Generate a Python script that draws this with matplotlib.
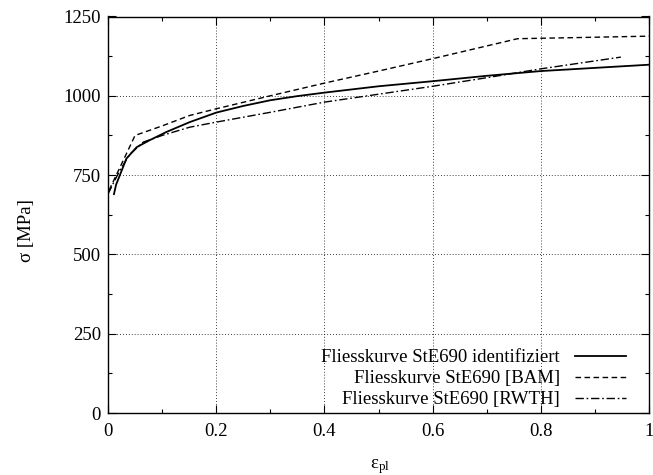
import numpy as np
import matplotlib
matplotlib.use('Agg')
from matplotlib import pyplot as plt
from matplotlib.ticker import MultipleLocator, FuncFormatter

plt.rcParams['font.family'] = ['Liberation Serif', 'DejaVu Serif']
plt.rcParams['mathtext.fontset'] = 'stix'
plt.rcParams['font.size'] = 13.5

# Fliesskurve identifiziert
eps_id = [0.011, 0.015, 0.022, 0.034, 0.053, 0.077, 0.108, 0.151, 0.2, 0.25, 0.3, 0.35, 0.4, 0.5, 0.6, 0.7, 0.8, 0.9, 1.0]
sig_id = [690, 720, 750, 802, 838, 860, 886, 917, 947, 968, 986, 999, 1010, 1030, 1046, 1063, 1078, 1088, 1098]

# Fliesskurve BAM
eps_bam = [0.002, 0.05, 0.1, 0.151, 0.2, 0.3, 0.4, 0.5, 0.6, 0.757, 0.85, 1.0]
sig_bam = [702, 875, 905, 938, 959, 1000, 1040, 1078, 1117, 1180, 1183, 1188]

# Fliesskurve RWTH
eps_rwth = [0.0, 0.01, 0.022, 0.04, 0.065, 0.1, 0.151, 0.2, 0.3, 0.4, 0.5, 0.6, 0.7, 0.8, 0.948]
sig_rwth = [690, 725, 765, 815, 854, 875, 901, 917, 948, 980, 1005, 1030, 1057, 1085, 1122]

labels = ['Fliesskurve StE690 identifiziert',
          'Fliesskurve StE690 [BAM]',
          'Fliesskurve StE690 [RWTH]']

fig = plt.figure(figsize=(6.53, 4.75), dpi=100)
ax = fig.add_axes([108/653, 62/475, 541/653, 396.5/475])

ax.plot(eps_id, sig_id, color='black', lw=1.3, label=labels[0])
ax.plot(eps_bam, sig_bam, color='black', lw=1.0, dashes=(4, 2.5), label=labels[1])
ax.plot(eps_rwth, sig_rwth, color='black', lw=1.0, dashes=(6, 2, 1.2, 2), label=labels[2])

ax.set_xlim(0, 1)
ax.set_ylim(0, 1250)
ax.xaxis.set_major_locator(MultipleLocator(0.2))
ax.xaxis.set_minor_locator(MultipleLocator(0.1))
ax.yaxis.set_major_locator(MultipleLocator(250))
ax.yaxis.set_minor_locator(MultipleLocator(125))
ax.xaxis.set_major_formatter(FuncFormatter(lambda v, p: '%g' % v))
ax.tick_params(which='both', direction='in', top=True, right=True, width=0.8)
ax.tick_params(which='major', length=6)
ax.tick_params(which='minor', length=3)
ax.tick_params(axis='x', which='major', pad=7)
ax.tick_params(axis='y', which='major', pad=5)
ax.grid(True, which='major', color='black', lw=0.6, linestyle=(0, (1, 2.5)))
for s in ax.spines.values():
    s.set_linewidth(1.0)

ax.set_xlabel('ε$_\\mathregular{pl}$')
ax.set_ylabel('σ [MPa]')
ax.xaxis.set_label_coords(0.503, -0.11)
ax.yaxis.set_label_coords(-0.135, 0.46)

leg = ax.legend(loc='lower right', bbox_to_anchor=(0.957, 0.012), markerfirst=False,
                frameon=False, handlelength=2.7, handletextpad=0.8, labelspacing=0.2,
                borderaxespad=0, borderpad=0)

fig.savefig('out.png', dpi=100)
